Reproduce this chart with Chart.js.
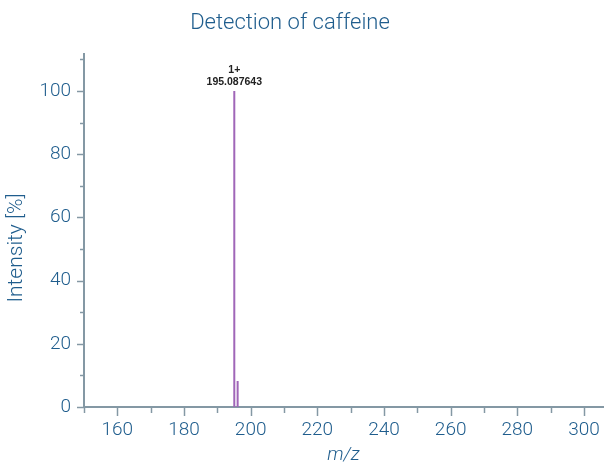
<!DOCTYPE html>
<html>
<head>
<meta charset="utf-8">
<script src="https://cdn.jsdelivr.net/npm/chart.js@4/dist/chart.umd.min.js"></script>
<style>
  html, body { margin: 0; padding: 0; background: #fff; }
  #wrap { width: 604px; height: 465px; position: relative; }
</style>
</head>
<body>
<div id="wrap"><canvas id="c" width="604" height="465"></canvas></div>
<script>
// Centroid peaks of the caffeine [M+H]+ isotope cluster
const peakMz = [195.087643, 196.0910];
const peakIntensity = [100, 8.2];
const peakCharge = ['1+', ''];

// Axis tick positions (labelled every 20, minor marks every 10)
const xTickValues = [150, 160, 170, 180, 190, 200, 210, 220, 230, 240, 250, 260, 270, 280, 290, 300];
const yTickValues = [0, 10, 20, 30, 40, 50, 60, 70, 80, 90, 100, 110];

const titleText = 'Detection of caffeine';
const xTitle = 'm/z';
const yTitle = 'Intensity [%]';

const TEXT = '#1f5d8d';
const AXIS = '#8498a4';
const PEAK = '#a066b8';
const FONT = 'Roboto, "Open Sans", sans-serif';

// Each peak drawn as a narrow stick from the baseline to its apex
const sticks = peakMz.map((m, i) => [
  { x: m, y: 0 }, { x: m, y: peakIntensity[i] }, { x: m, y: null }
]).flat();

const isMajor = v => v % 20 === 0;

const decor = {
  id: 'decor',
  afterDraw(chart) {
    const ctx = chart.ctx;
    const xs = chart.scales.x, ys = chart.scales.y;
    const area = chart.chartArea;
    ctx.save();
    ctx.strokeStyle = AXIS;
    ctx.lineWidth = 1.5;
    yTickValues.forEach(v => {
      const y = Math.round(ys.getPixelForValue(v)) + 0.5;
      const len = isMajor(v) ? 7 : 4;
      ctx.beginPath(); ctx.moveTo(area.left - len, y); ctx.lineTo(area.left, y); ctx.stroke();
    });
    xTickValues.forEach(v => {
      const x = Math.round(xs.getPixelForValue(v)) + 0.5;
      const len = isMajor(v) ? 9 : 6;
      ctx.beginPath(); ctx.moveTo(x, area.bottom); ctx.lineTo(x, area.bottom + len); ctx.stroke();
    });

    // title
    ctx.fillStyle = TEXT;
    ctx.textAlign = 'center';
    ctx.textBaseline = 'middle';
    ctx.font = '300 22px ' + FONT;
    ctx.fillText(titleText, 290, 23);

    // axis titles
    ctx.font = 'italic 300 19px ' + FONT;
    ctx.fillText(xTitle, (area.left + area.right) / 2, 455);
    ctx.save();
    ctx.translate(17, 248);
    ctx.rotate(-Math.PI / 2);
    ctx.font = '300 21px ' + FONT;
    ctx.fillText(yTitle, 0, 0);
    ctx.restore();

    // peak annotation
    ctx.fillStyle = '#222';
    ctx.font = 'bold 10.5px "Liberation Sans", "DejaVu Sans", sans-serif';
    ctx.textBaseline = 'alphabetic';
    const px = xs.getPixelForValue(peakMz[0]);
    const py = ys.getPixelForValue(peakIntensity[0]);
    ctx.fillText(peakCharge[0], px, py - 18);
    ctx.fillText(peakMz[0].toFixed(6), px, py - 6);
    ctx.restore();
  }
};

new Chart(document.getElementById('c'), {
  type: 'line',
  data: {
    datasets: [{
      data: sticks,
      borderColor: PEAK,
      borderWidth: 2,
      pointRadius: 0,
      spanGaps: false,
      tension: 0
    }]
  },
  options: {
    responsive: false,
    animation: false,
    layout: { padding: { top: 54, right: 1, left: 0, bottom: 0 } },
    plugins: { legend: { display: false }, tooltip: { enabled: false } },
    scales: {
      x: {
        type: 'linear',
        min: 150, max: 305.7,
        afterBuildTicks(s) { s.ticks = xTickValues.map(v => ({ value: v })); },
        afterFit(s) { s.height = 58; s.paddingLeft = 0; s.paddingRight = 0; },
        border: { color: AXIS, width: 2 },
        grid: { display: false, drawTicks: false },
        ticks: {
          padding: 12,
          color: TEXT,
          font: { family: FONT, size: 19, weight: '300' },
          maxRotation: 0,
          autoSkip: false,
          callback: v => isMajor(v) ? String(v) : ''
        }
      },
      y: {
        min: 0, max: 111.7,
        afterBuildTicks(s) { s.ticks = yTickValues.map(v => ({ value: v })); },
        afterFit(s) { s.width = 84; s.paddingTop = 0; s.paddingBottom = 0; },
        border: { color: AXIS, width: 2 },
        grid: { display: false, drawTicks: false },
        ticks: {
          padding: 13,
          color: TEXT,
          font: { family: FONT, size: 19, weight: '300' },
          autoSkip: false,
          callback: v => isMajor(v) ? String(v) : ''
        }
      }
    }
  },
  plugins: [decor]
});
</script>
</body>
</html>
